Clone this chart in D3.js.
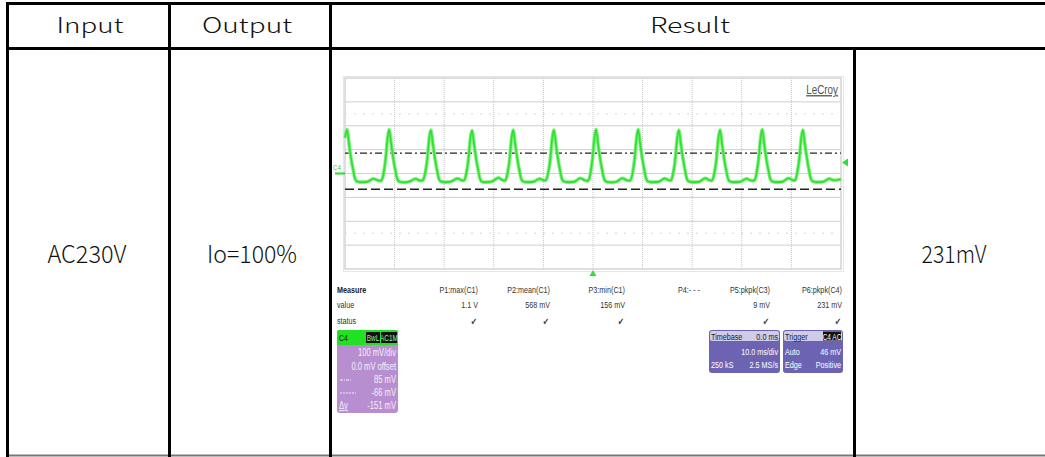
<!DOCTYPE html>
<html><head><meta charset="utf-8">
<script src="https://cdn.jsdelivr.net/npm/d3@7"></script>
<style>html,body{margin:0;padding:0;background:#fff;}svg{display:block;}</style>
</head><body>
<svg id="c" width="1045" height="457"></svg>
<script>
// ---- table content ----
const headers = ["Input", "Output", "Result"];
const rowCells = ["AC230V", "Io=100%", "231mV"];

// ---- oscilloscope data (time in ms, value in mV) ----
const traceTime = [
 -50,-49.6,-49.1,-48.4,-47.7,-46.6,-45.4,-44.3,-43.4,
 -42.7,-42.0,-41.4,-41.1,-40.6,-39.9,-39.2,-38.1,-36.9,-35.8,-34.9,
 -34.3,-33.6,-33.0,-32.7,-32.2,-31.5,-30.8,-29.7,-28.5,-27.4,-26.5,
 -26.0,-25.3,-24.7,-24.4,-23.9,-23.2,-22.5,-21.4,-20.2,-19.1,-18.2,
 -17.7,-17.0,-16.4,-16.1,-15.6,-14.9,-14.2,-13.1,-11.9,-10.8,-9.9,
 -9.5,-8.8,-8.2,-7.9,-7.4,-6.7,-6.0,-4.9,-3.7,-2.6,-1.7,
 -1.0,-0.3,0.3,0.6,1.1,1.8,2.5,3.6,4.8,5.9,6.8,
 7.5,8.2,8.8,9.1,9.6,10.3,11.0,12.1,13.3,14.4,15.3,
 15.7,16.4,17.0,17.3,17.8,18.5,19.2,20.3,21.5,22.6,23.5,
 24.0,24.7,25.3,25.6,26.1,26.8,27.5,28.6,29.8,30.9,31.8,
 32.5,33.2,33.8,34.1,34.6,35.3,36.0,37.1,38.3,39.4,40.3,
 40.7,41.4,42.0,42.3,42.8,43.5,44.2,45.3,46.5,47.6,48.5,50.0];
const traceValue = [
 150,184,110,20,-32,-36,-34,-22,-28,
 -30,30,150,184,110,20,-32,-37,-33,-22,-30,
 -28,30,150,182,110,20,-32,-36,-33,-21,-28,
 -29,30,150,180,110,20,-33,-36,-32,-18,-28,
 -29,30,150,182,110,20,-32,-36,-34,-22,-29,
 -28,30,150,182,110,20,-32,-36,-34,-20,-28,
 -30,30,150,184,110,20,-32,-37,-34,-20,-28,
 -29,30,150,184,110,20,-32,-36,-34,-21,-28,
 -29,30,150,182,110,20,-32,-36,-34,-20,-28,
 -29,30,150,182,110,20,-32,-36,-34,-22,-29,
 -29,30,150,184,110,20,-32,-36,-34,-20,-28,
 -29,30,150,182,110,20,-32,-36,-34,-22,-28,-24];
const cursorLevels = [85, -66];       // mV
const triggerLevel = 46;              // mV
const measureNames = ["P1:max(C1)","P2:mean(C1)","P3:min(C1)","P4:- - -","P5:pkpk(C3)","P6:pkpk(C4)"];
const measureValues = ["1.1 V","568 mV","156 mV","","9 mV","231 mV"];
const measureOk = [true,true,true,false,true,true];
const channelLines = ["100 mV/div","0.0 mV offset","85 mV","-66 mV","-151 mV"];
const timebaseLines = ["0.0 ms","10.0 ms/div","250 kS","2.5 MS/s"];
const triggerLines = ["C4 AC","Auto","46 mV","Edge","Positive"];

const svg = d3.select("#c");
svg.append("rect").attr("width",1045).attr("height",457).attr("fill","#fff");

// ---- table ----
const tableFont = "'Noto Sans CJK KR','Noto Sans',sans-serif";
const colX = [7.5, 169.5, 330.5, 854.5];
const g = svg.append("g");
g.append("line").attr("x1",6).attr("x2",1045).attr("y1",3.5).attr("y2",3.5).attr("stroke","#000").attr("stroke-width",3);
g.append("line").attr("x1",6).attr("x2",1045).attr("y1",48.5).attr("y2",48.5).attr("stroke","#000").attr("stroke-width",3);
g.append("line").attr("x1",6).attr("x2",1045).attr("y1",455.5).attr("y2",455.5).attr("stroke","#777").attr("stroke-width",2);
colX.forEach((x,i)=>{
  g.append("line").attr("x1",x).attr("x2",x).attr("y1", i===3?48:2).attr("y2",457)
   .attr("stroke","#000").attr("stroke-width",3);
});
const headerCenters = [90, 247, 690];
const headerWidths = [67, 90, 80];
headers.forEach((h,i)=>{
  g.append("text").attr("x",headerCenters[i]).attr("y",33).attr("text-anchor","middle")
   .attr("font-family",tableFont).attr("font-size",21).attr("font-weight",300).attr("fill","#111")
   .attr("textLength",headerWidths[i]).attr("lengthAdjust","spacingAndGlyphs").text(h);
});
const cellCenters = [87, 252, 954];
const cellWidths = [79, 90, 65];
rowCells.forEach((t,i)=>{
  g.append("text").attr("x",cellCenters[i]).attr("y",263).attr("text-anchor","middle")
   .attr("font-family",tableFont).attr("font-size",24).attr("font-weight",300).attr("fill","#111")
   .attr("textLength",cellWidths[i]).attr("lengthAdjust","spacingAndGlyphs").text(t);
});

// ---- scope ----
const sf = "'Liberation Sans','Arial',sans-serif";
const NARROW = 0.76;
function T(parent, px, py, str, anchor, size, fill, extra){
  const t = parent.append("text").attr("transform",`translate(${px},${py}) scale(${NARROW},1)`)
    .attr("text-anchor",anchor||"start").attr("font-family",sf).attr("font-size",size||9.5)
    .attr("fill",fill||"#333").text(str);
  if (extra) Object.keys(extra).forEach(k=>t.attr(k,extra[k]));
  return t;
}
const x = d3.scaleLinear().domain([-50,50]).range([345,841]);
const y = d3.scaleLinear().domain([-400,400]).range([269,78]);
const s = svg.append("g");
s.append("rect").attr("x",343.5).attr("y",76.5).attr("width",500).attr("height",195)
 .attr("fill","none").attr("stroke","#e6e6e6");
s.append("rect").attr("x",x(-50)).attr("y",y(400)).attr("width",x(50)-x(-50)).attr("height",y(-400)-y(400))
 .attr("fill","#fff").attr("stroke","#bdbdbd").attr("stroke-width",1);
d3.range(-40,50,10).forEach(t=>{
  s.append("line").attr("x1",x(t)).attr("x2",x(t)).attr("y1",y(400)).attr("y2",y(-400))
   .attr("stroke","#c4c4c4").attr("stroke-dasharray","1,1");
});
d3.range(-300,400,100).forEach(v=>{
  s.append("line").attr("x1",x(-50)).attr("x2",x(50)).attr("y1",y(v)).attr("y2",y(v))
   .attr("stroke","#cfcfcf");
});
[250, 0, -250].forEach(v=>{
  s.append("line").attr("x1",x(-50)).attr("x2",x(50)).attr("y1",y(v)).attr("y2",y(v))
   .attr("stroke","#d6d6d6").attr("stroke-dasharray","2,7");
});
s.append("line").attr("x1",x(-50)).attr("x2",x(50)).attr("y1",y(cursorLevels[0])).attr("y2",y(cursorLevels[0]))
 .attr("stroke","#222").attr("stroke-width",1.3).attr("stroke-dasharray","7,3,2,3");
s.append("line").attr("x1",x(-50)).attr("x2",x(50)).attr("y1",y(cursorLevels[1])).attr("y2",y(cursorLevels[1]))
 .attr("stroke","#222").attr("stroke-width",1.3).attr("stroke-dasharray","9,4");
const pts = traceTime.map((t,i)=>[t,traceValue[i]]);
const line = d3.line().x(d=>x(d[0])).y(d=>y(d[1])).curve(d3.curveCatmullRom);
s.append("path").attr("d",line(pts)).attr("fill","none").attr("stroke","#7ef07e").attr("stroke-width",3.6).attr("stroke-linejoin","round");
s.append("path").attr("d",line(pts)).attr("fill","none").attr("stroke","#2fe02f").attr("stroke-width",1.6).attr("stroke-linejoin","round");
T(s, 333, 170, "C4", "start", 8, "#3c3");
s.append("line").attr("x1",335).attr("x2",345).attr("y1",y(0)).attr("y2",y(0)).attr("stroke","#2d2").attr("stroke-width",2);
const ty = y(triggerLevel);
s.append("path").attr("d",`M${x(50)+1},${ty} L${x(50)+7},${ty-4} L${x(50)+7},${ty+4} Z`).attr("fill","#3d3");
s.append("path").attr("d",`M${x(0)},${y(-400)+1} L${x(0)-3.5},${y(-400)+7} L${x(0)+3.5},${y(-400)+7} Z`).attr("fill","#3d3");
T(s, 838, 94, "LeCroy", "end", 13, "#555", {"text-decoration":"underline"});

const mt = s.append("g");
T(mt, 337, 293, "Measure", "start", 9.5, "#222", {"font-weight":"bold"});
T(mt, 337, 308, "value");
T(mt, 337, 324, "status");
const mRight = [478,550,625,700,770,842];
measureNames.forEach((n,i)=>{
  T(mt, mRight[i], 293, n, "end");
  if (measureValues[i]) T(mt, mRight[i], 308, measureValues[i], "end");
  if (measureOk[i]) T(mt, mRight[i]-1, 325, "\u2714", "end", 10, "#444", {"font-family":"'DejaVu Sans',sans-serif"});
});

const cb = s.append("g");
cb.append("rect").attr("x",337).attr("y",330).attr("width",61).attr("height",83).attr("rx",3).attr("fill","#b78fd0");
cb.append("rect").attr("x",337).attr("y",330).attr("width",61).attr("height",15).attr("rx",2).attr("fill","#22e022");
T(cb, 339, 341, "C4", "start", 9, "#111");
cb.append("rect").attr("x",366).attr("y",332).attr("width",14).attr("height",11).attr("fill","#111");
cb.append("rect").attr("x",381).attr("y",332).attr("width",16).attr("height",11).attr("fill","#111");
T(cb, 373, 341, "BwL", "middle", 8.5, "#9e9");
T(cb, 389, 341, "AC1M", "middle", 8.5, "#9e9");
const cbY = [356,370,383,396,409];
channelLines.forEach((t,i)=>{ T(cb, 396, cbY[i], t, "end", 10, "#f6f0fb"); });
cb.append("line").attr("x1",340).attr("x2",352).attr("y1",380).attr("y2",380).attr("stroke","#eee").attr("stroke-dasharray","3,1,1,1");
cb.append("line").attr("x1",340).attr("x2",356).attr("y1",393).attr("y2",393).attr("stroke","#eee").attr("stroke-dasharray","2,1");
T(cb, 339, 409, "\u0394y", "start", 10, "#f6f0fb", {"text-decoration":"underline"});

function infoBox(x0, w){
  const b = s.append("g");
  b.append("rect").attr("x",x0).attr("y",330).attr("width",w).attr("height",43).attr("rx",3).attr("fill","#6c64b2");
  b.append("rect").attr("x",x0+1).attr("y",331).attr("width",w-2).attr("height",10).attr("rx",2).attr("fill","#cfcbe9");
  return b;
}
const tb = infoBox(709, 71);
T(tb, 711, 339.5, "Timebase", "start", 9.5, "#222");
T(tb, 778, 339.5, timebaseLines[0], "end", 9.5, "#222");
T(tb, 778, 355, timebaseLines[1], "end", 9.5, "#fff");
T(tb, 711, 368, timebaseLines[2], "start", 9.5, "#fff");
T(tb, 778, 368, timebaseLines[3], "end", 9.5, "#fff");
const trb = infoBox(783, 60);
T(trb, 785, 339.5, "Trigger", "start", 9.5, "#222");
trb.append("rect").attr("x",823).attr("y",331.5).attr("width",18).attr("height",9).attr("fill","#111");
T(trb, 832, 339.5, triggerLines[0], "middle", 8.5, "#fff");
T(trb, 785, 355, triggerLines[1], "start", 9.5, "#fff");
T(trb, 841, 355, triggerLines[2], "end", 9.5, "#fff");
T(trb, 785, 368, triggerLines[3], "start", 9.5, "#fff");
T(trb, 841, 368, triggerLines[4], "end", 9.5, "#fff");
</script>
</body></html>
